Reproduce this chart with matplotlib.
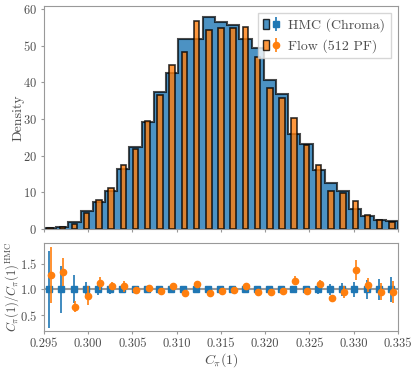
import numpy as np
import matplotlib
matplotlib.use("Agg")
import matplotlib.pyplot as plt
from matplotlib.patches import Patch
from matplotlib.legend_handler import HandlerTuple

plt.rcParams['font.family'] = 'serif'
plt.rcParams['font.serif'] = ['cmr10']
plt.rcParams['mathtext.fontset'] = 'cm'
plt.rcParams['axes.formatter.use_mathtext'] = True
plt.rcParams['font.size'] = 9
plt.rcParams['axes.edgecolor'] = '0.6'
plt.rcParams['xtick.color'] = '0.6'
plt.rcParams['ytick.color'] = '0.6'
plt.rcParams['xtick.labelcolor'] = '0.3'
plt.rcParams['ytick.labelcolor'] = '0.3'
plt.rcParams['xtick.major.size'] = 2.5
plt.rcParams['ytick.major.size'] = 2.5
plt.rcParams['xtick.major.pad'] = 2.5
plt.rcParams['ytick.major.pad'] = 2.5

# histogram bins
x_min, x_max, n_bins = 0.295, 0.335, 29
edges = np.linspace(x_min, x_max, n_bins + 1)
centers = 0.5 * (edges[1:] + edges[:-1])
width = edges[1] - edges[0]

hmc_density = [0.2, 0.45, 1.8, 4.9, 7.2, 10.4, 16.3, 22.2, 29.1, 37.4, 42.5, 51.8, 51.7, 57.7,
               56.3, 55.6, 51.7, 49.3, 40.7, 36.9, 26.0, 23.2, 16.0, 12.5, 10.3, 5.4, 3.6, 2.4, 2.1]
flow_density = [0.2, 0.6, 1.2, 4.2, 7.8, 11.1, 17.3, 21.9, 29.5, 36.4, 44.8, 48.2, 56.6, 54.2,
                54.7, 54.7, 55.0, 46.8, 38.4, 35.7, 30.2, 22.8, 17.5, 10.4, 9.8, 7.5, 3.7, 2.5, 1.8]

# ratio panel
hmc_ratio = np.ones(n_bins)
hmc_err = [0.74, 0.46, 0.27, 0.15, 0.11, 0.09, 0.07, 0.05, 0.04, 0.04, 0.03, 0.03, 0.03, 0.03,
           0.03, 0.03, 0.03, 0.03, 0.04, 0.04, 0.05, 0.06, 0.08, 0.10, 0.13, 0.15, 0.18, 0.21, 0.25]
flow_ratio = [1.28, 1.34, 0.67, 0.88, 1.12, 1.07, 1.06, 0.98, 1.02, 0.97, 1.06, 0.94, 1.10, 0.94,
              0.97, 0.99, 1.07, 0.955, 0.95, 0.97, 1.17, 0.97, 1.11, 0.83, 0.95, 1.37, 1.09, 0.955, 0.955]
flow_err = [0.54, 0.27, 0.11, 0.19, 0.13, 0.08, 0.11, 0.05, 0.04, 0.03, 0.03, 0.03, 0.03, 0.03,
            0.03, 0.03, 0.03, 0.03, 0.04, 0.04, 0.09, 0.04, 0.08, 0.05, 0.11, 0.19, 0.13, 0.16, 0.21]

fig = plt.figure(figsize=(4.15, 3.68), dpi=100)
ax1 = fig.add_axes([0.106, 0.378, 0.853, 0.606])
ax2 = fig.add_axes([0.106, 0.101, 0.853, 0.239])

ax1.stairs(hmc_density, edges, fill=True, facecolor='C0', alpha=0.8, zorder=1)
ax1.stairs(hmc_density, edges, color='k', lw=1.5, alpha=0.7, zorder=2)
ax1.bar(centers, flow_density, width=0.45 * width, color='C1', edgecolor='k',
        lw=1.2, alpha=0.8, zorder=3)
ax1.set_xlim(x_min, x_max)
ax1.set_ylim(0, 60.8)
ax1.set_yticks(np.arange(0, 61, 10))
ax1.set_xticks(np.arange(0.295, 0.3351, 0.005))
ax1.set_xticklabels([])
ax1.set_ylabel("Density", color='0.3', fontsize=10)
ax1.yaxis.set_label_coords(-0.056, 0.5)

ax2.axhline(1.0, color='0.6', lw=1.5, zorder=1)
eb_hmc = ax2.errorbar(centers - 0.0001, hmc_ratio, yerr=hmc_err, fmt='s', color='C0',
                      ms=4.5, lw=1.2, zorder=2)
eb_flow = ax2.errorbar(centers + 0.0001, flow_ratio, yerr=flow_err, fmt='o', color='C1',
                       ms=4.5, lw=1.2, zorder=3)
ax2.set_xlim(x_min, x_max)
ax2.set_ylim(0.2, 1.9)
ax2.set_yticks([0.5, 1.0, 1.5])
ax2.set_xticks(np.arange(0.295, 0.3351, 0.005))
ax2.set_xticklabels(["%.3f" % t for t in np.arange(0.295, 0.3351, 0.005)])
ax2.set_xlabel(r"$C_\pi(1)$", color='0.3', fontsize=10, labelpad=1)
ax2.set_ylabel(r"$C_\pi(1)/C_\pi(1)^{\rm HMC}$", color='0.3', fontsize=9)
ax2.yaxis.set_label_coords(-0.066, 0.5)

p_hmc = Patch(facecolor='C0', edgecolor='k', alpha=0.8)
p_flow = Patch(facecolor='C1', edgecolor='k', alpha=0.8)
ax1.legend([(p_hmc, eb_hmc), (p_flow, eb_flow)], ["HMC (Chroma)", "Flow (512 PF)"],
           handler_map={tuple: HandlerTuple(ndivide=None, pad=0.3)},
           loc='upper right', handlelength=1.1, handletextpad=0.7, fancybox=False,
           edgecolor='0.8', labelcolor='0.3', borderaxespad=0.5, fontsize=10)

fig.savefig("out.png", dpi=100)
